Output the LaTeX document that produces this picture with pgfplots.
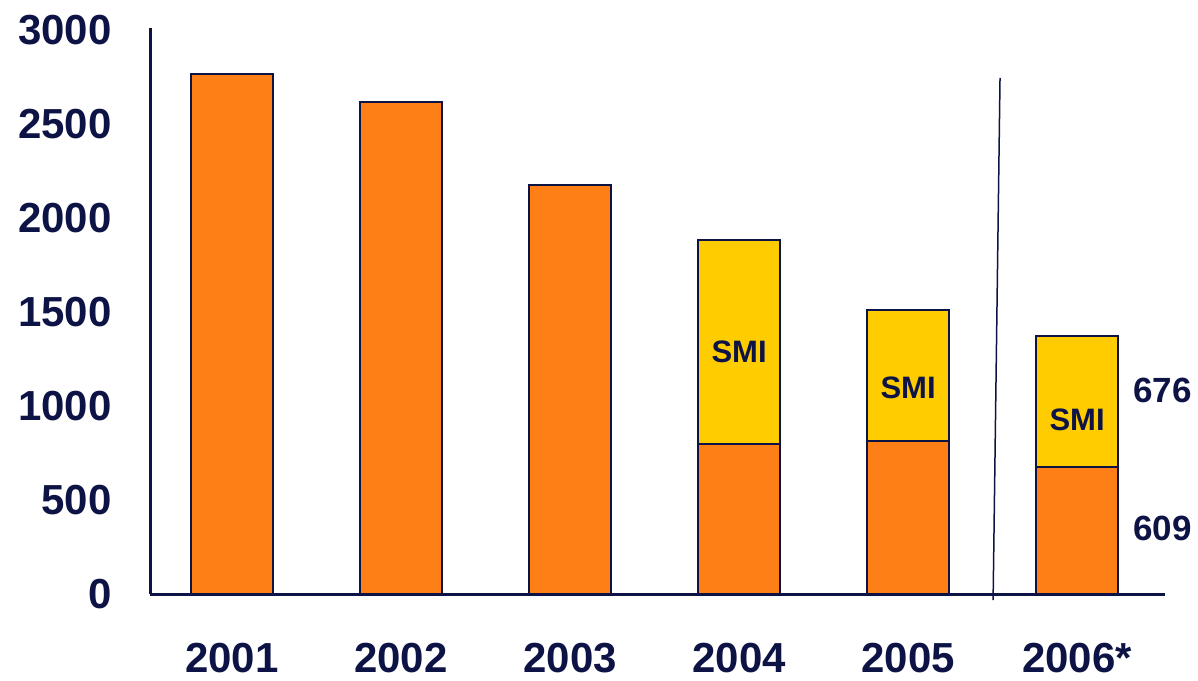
\documentclass[border=0pt]{standalone}
\usepackage{pgfplots}
\pgfplotsset{compat=1.18}
\usepackage{fontspec}
\setmainfont{Liberation Sans}
\definecolor{navy}{HTML}{0D1445}
\definecolor{barorange}{HTML}{FF7F17}
\definecolor{baryellow}{HTML}{FFCC00}
\tikzset{
    smi/.style={font=\bfseries\fontsize{15.5}{15.5}\selectfont, text=navy},
    val/.style={font=\bfseries\fontsize{17.5}{17.5}\selectfont, text=navy, anchor=west, inner sep=0pt},
}
\begin{document}
\begin{tikzpicture}
\useasboundingbox (0,0) rectangle (599pt,340pt);
\begin{axis}[
    at={(75pt,43pt)}, anchor=south west,
    scale only axis,
    width=507.5pt, height=283pt,
    clip=false,
    ybar stacked,
    bar width=41pt,
    xmin=-0.485, xmax=5.52,
    ymin=0, ymax=3010,
    xtick={0,1,2,3,4,5},
    xticklabels={2001,2002,2003,2004,2005,2006*},
    ytick={0,500,1000,1500,2000,2500,3000},
    major tick length=0pt,
    axis x line*=bottom, axis y line*=left,
    axis line style={-, navy, line width=1.5pt},
    /pgf/number format/assume math mode=true,
    /pgf/number format/1000 sep={},
    tick label style={font=\bfseries\fontsize{21}{21}\selectfont, text=navy, inner sep=0pt},
    x tick label style={anchor=north, yshift=-24.5pt},
    y tick label style={anchor=east, xshift=-19pt},
]
% orange part
\addplot[fill=barorange, draw=navy, line width=0.8pt] coordinates {
    (0,2766) (1,2617) (2,2176) (3,798) (4,814) (5,676)};
% SMI part
\addplot[fill=baryellow, draw=navy, line width=0.8pt] coordinates {
    (0,0) (1,0) (2,0) (3,1085) (4,697) (5,696)};
\draw[navy, line width=0.75pt] (axis cs:4.544,2745) -- (axis cs:4.503,-32);
\coordinate (s2004) at (axis cs:3,1287);
\coordinate (s2005) at (axis cs:4,1096);
\coordinate (s2006) at (axis cs:5,926);
\node[val] at (axis cs:5.33,1085) {676};
\node[val] at (axis cs:5.33,351) {609};
\end{axis}
% SMI labels on top of the stacked bars
\node[smi] at (s2004) {SMI};
\node[smi] at (s2005) {SMI};
\node[smi] at (s2006) {SMI};
\end{tikzpicture}
\end{document}
